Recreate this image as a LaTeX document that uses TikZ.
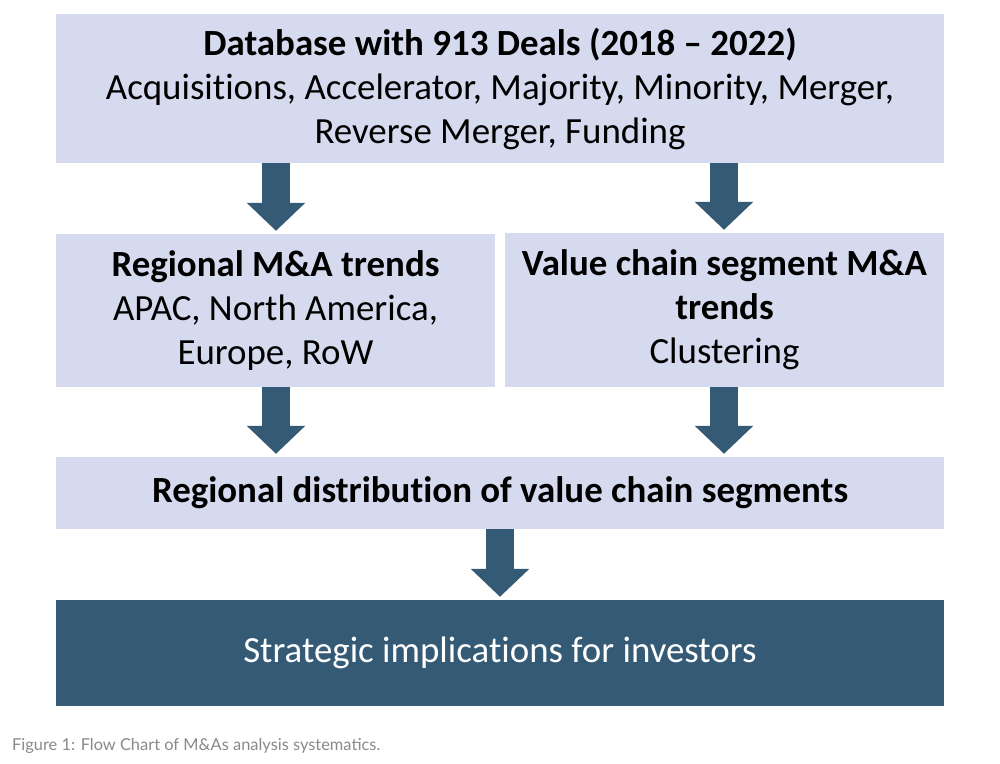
\documentclass[tikz,border=0pt]{standalone}
\usepackage{fontspec}
\setmainfont[Ligatures=NoCommon]{Carlito}
\newfontfamily\capfont{Lato}
\usetikzlibrary{arrows.meta}
\definecolor{boxlight}{HTML}{D6DAEE}
\definecolor{boxdark}{HTML}{345A75}
\definecolor{capgray}{HTML}{8A8A8A}
\tikzset{
  lightbox/.style={fill=boxlight, draw=none, inner sep=0pt, align=center,
    font=\fontsize{36.9}{44}\selectfont, text=black},
  darkbox/.style={fill=boxdark, draw=none, inner sep=0pt, align=center,
    font=\fontsize{36.9}{44}\selectfont, text=white},
  flowarrow/.style={draw=boxdark, line width=28pt,
    -{Triangle[width=57pt,length=28pt]}, shorten >=3pt},
}
\begin{document}
\begin{tikzpicture}[x=1pt,y=-1pt]
\useasboundingbox[fill=white] (0,0) rectangle (1000,763);
\node[lightbox, minimum width=888pt, minimum height=149pt] (db) at (500,88.5)
  {\textbf{Database with 913 Deals (2018 – 2022)}\\
   Acquisitions, Accelerator, Majority, Minority, Merger,\\
   Reverse Merger, Funding};
\node[lightbox, minimum width=439pt, minimum height=153pt] (reg) at (275.5,310.5)
  {\textbf{Regional M\&A trends}\\APAC, North America,\\Europe, RoW};
\node[lightbox, minimum width=439pt, minimum height=154pt] (val) at (724.5,310)
  {\textbf{Value chain segment M\&A}\\\textbf{trends}\\Clustering};
\node[lightbox, minimum width=888pt, minimum height=72pt] (dist) at (500,493)
  {\textbf{Regional distribution of value chain segments}};
\node[darkbox, minimum width=888pt, minimum height=106pt] (strat) at (500,653)
  {Strategic implications for investors};
\node[anchor=west, inner sep=0pt, font=\capfont\fontsize{16.4}{19}\selectfont, text=capgray]
  (cap) at (12,746) {Figure 1: Flow Chart of M\&As analysis systematics.};
\draw[flowarrow] (db.south -| 276,0) -- (reg.north -| 276,0);
\draw[flowarrow] (db.south -| 724,0) -- (val.north -| 724,0);
\draw[flowarrow] (reg.south -| 276,0) -- (dist.north -| 276,0);
\draw[flowarrow] (val.south -| 724,0) -- (dist.north -| 724,0);
\draw[flowarrow] (dist.south -| 500,0) -- (strat.north -| 500,0);
\end{tikzpicture}
\end{document}
